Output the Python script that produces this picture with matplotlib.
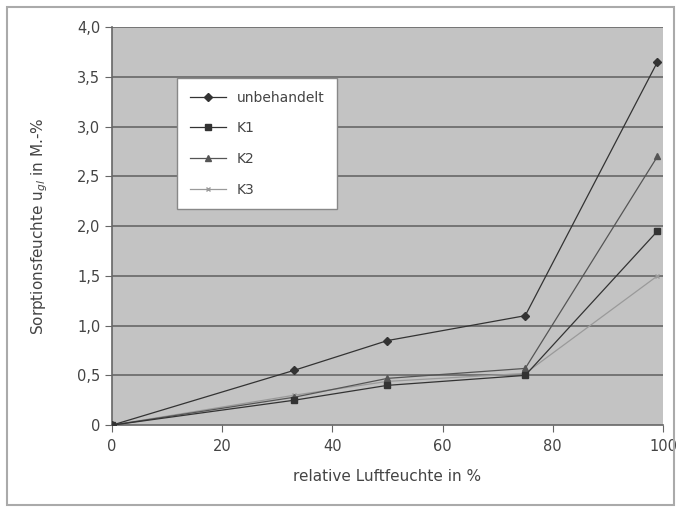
import matplotlib.pyplot as plt
from matplotlib.patches import Rectangle
from matplotlib.ticker import FuncFormatter

plt.rcParams['font.family'] = ['DejaVu Sans']

# relative Luftfeuchte in %
feuchte = [0, 33, 50, 75, 99]

# Sorptionsfeuchte in M.-%
unbehandelt = [0, 0.55, 0.85, 1.10, 3.65]
k1 = [0, 0.25, 0.40, 0.50, 1.95]
k2 = [0, 0.28, 0.47, 0.57, 2.70]
k3 = [0, 0.30, 0.44, 0.52, 1.50]

y_ticks = [0, 0.5, 1.0, 1.5, 2.0, 2.5, 3.0, 3.5, 4.0]
x_ticks = [0, 20, 40, 60, 80, 100]

txt = '#444444'

fig = plt.figure(figsize=(6.81, 5.11), dpi=100)
fig.patches.append(Rectangle((0.011, 0.012), 0.978, 0.975, transform=fig.transFigure,
                             fill=False, edgecolor='#aaaaaa', linewidth=1.5))
ax = fig.add_axes([0.1645, 0.168, 0.809, 0.779])
ax.set_facecolor('#c3c3c3')

for y in y_ticks[1:]:
    ax.axhline(y, color='#6e6e6e', linewidth=1.3, zorder=1)

ax.plot(feuchte, k3, color='#9a9a9a', linewidth=0.9, marker='x', markersize=3,
        label='K3', zorder=3)
ax.plot(feuchte, k2, color='#555555', linewidth=0.9, marker='^', markersize=5,
        label='K2', zorder=4)
ax.plot(feuchte, k1, color='#333333', linewidth=0.9, marker='s', markersize=5,
        label='K1', zorder=5)
ax.plot(feuchte, unbehandelt, color='#333333', linewidth=0.9, marker='D', markersize=4,
        label='unbehandelt', zorder=6)

ax.set_xlim(0, 100)
ax.set_ylim(0, 4.0)
ax.set_xticks(x_ticks)
ax.set_yticks(y_ticks)

def komma(v, pos):
    if v == 0:
        return '0'
    return f'{v:.1f}'.replace('.', ',')

ax.yaxis.set_major_formatter(FuncFormatter(komma))
ax.tick_params(axis='both', colors='#666666', labelcolor=txt, labelsize=10.5,
               direction='out', length=5)
ax.tick_params(axis='x', pad=5)

for s in ['top', 'right']:
    ax.spines[s].set_visible(False)
for s in ['left', 'bottom']:
    ax.spines[s].set_color('#666666')
    ax.spines[s].set_linewidth(1.2)

ax.set_xlabel('relative Luftfeuchte in %', color=txt, fontsize=11, labelpad=11)
ax.set_ylabel('Sorptionsfeuchte u$_{gl}$ in M.-%', color=txt, fontsize=11, labelpad=19)

handles, labels = ax.get_legend_handles_labels()
leg = ax.legend(handles[::-1], labels[::-1], loc='upper left',
                bbox_to_anchor=(0.118, 0.872), borderaxespad=0, frameon=True,
                fancybox=False, fontsize=10, labelspacing=1.2, handlelength=2.6,
                handletextpad=0.8, borderpad=0.9, edgecolor='#888888', framealpha=1)
for t in leg.get_texts():
    t.set_color(txt)

fig.savefig('out.png', dpi=100)
